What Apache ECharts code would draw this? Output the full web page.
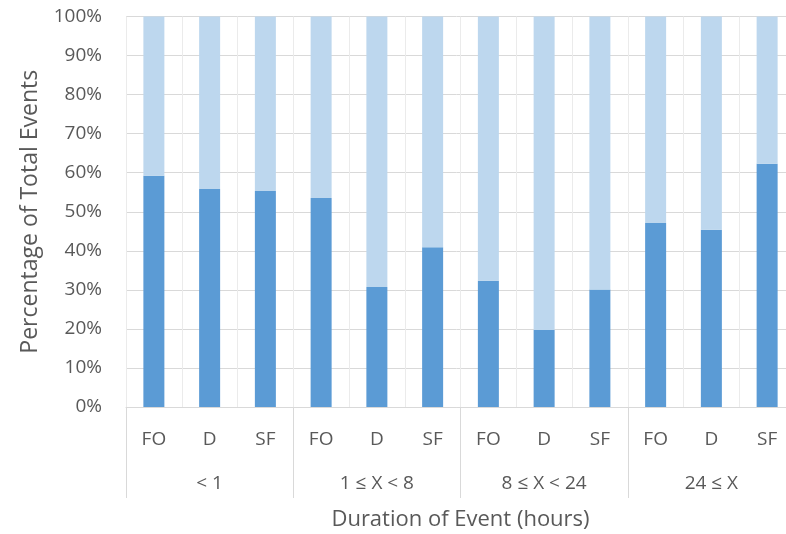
<!DOCTYPE html>
<html>
<head>
<meta charset="utf-8">
<script src="https://cdn.jsdelivr.net/npm/echarts@6/dist/echarts.min.js"></script>
<style>
  html, body { margin: 0; padding: 0; background: #fff; }
  #chart { width: 786px; height: 534px; }
</style>
</head>
<body>
<div id="chart"></div>
<script>
  // categories
  var subLabels = ['FO', 'D', 'SF', 'FO', 'D', 'SF', 'FO', 'D', 'SF', 'FO', 'D', 'SF'];
  var groupLabels = ['< 1', '1 ≤ X < 8', '8 ≤ X < 24', '24 ≤ X'];
  // percent of events (lower, dark part) and remaining part (upper, light)
  var lowerPct = [59.2, 55.8, 55.3, 53.5, 30.7, 40.9, 32.3, 19.7, 30.1, 47.1, 45.4, 62.3];
  var upperPct = [40.8, 44.2, 44.7, 46.5, 69.3, 59.1, 67.7, 80.3, 69.9, 52.9, 54.6, 37.7];
  var yTicks = [0, 10, 20, 30, 40, 50, 60, 70, 80, 90, 100];

  var font = 'Open Sans';
  var textColor = '#595959';

  var chart = echarts.init(document.getElementById('chart'));
  var option = {
    animation: false,
    textStyle: { fontFamily: font },
    // plot runs a bit past the right edge of the picture, like the original
    grid: { left: 126, width: 669, top: 16.5, height: 390.5, containLabel: false, outerBoundsMode: 'none' },
    xAxis: [
      {
        type: 'category',
        data: subLabels,
        position: 'bottom',
        axisLine: { show: true, lineStyle: { color: '#d9d9d9', width: 1 } },
        axisTick: { show: false },
        axisLabel: { interval: 0, margin: 23, fontSize: 19, color: textColor, fontFamily: font },
        splitLine: { show: true, interval: 0, lineStyle: { color: '#ebebeb', width: 1 } }
      },
      {
        type: 'category',
        data: groupLabels,
        position: 'bottom',
        axisLine: { show: false },
        axisTick: { show: true, interval: 0, length: 91, inside: false, lineStyle: { color: '#d9d9d9' } },
        axisLabel: { interval: 0, margin: 67, fontSize: 19, color: textColor, fontFamily: font },
        name: 'Duration of Event (hours)',
        nameLocation: 'middle',
        nameGap: 102,
        nameTextStyle: { fontSize: 22, color: textColor, fontFamily: font },
        splitLine: { show: false }
      }
    ],
    yAxis: {
      type: 'value',
      min: yTicks[0],
      max: yTicks[yTicks.length - 1],
      interval: 10,
      name: 'Percentage of Total Events',
      nameLocation: 'middle',
      nameGap: 84,
      nameTextStyle: { fontSize: 23, color: textColor, fontFamily: font },
      axisLine: { show: false },
      axisTick: { show: false },
      axisLabel: { formatter: '{value}%', margin: 24, fontSize: 19, color: textColor, fontFamily: font },
      splitLine: { show: true, lineStyle: { color: '#d9d9d9', width: 1 } }
    },
    series: [
      {
        name: 'lower',
        type: 'bar',
        stack: 'total',
        xAxisIndex: 0,
        barWidth: 21,
        data: lowerPct,
        itemStyle: { color: '#5b9bd5' }
      },
      {
        name: 'upper',
        type: 'bar',
        stack: 'total',
        xAxisIndex: 0,
        barWidth: 21,
        data: upperPct,
        itemStyle: { color: '#bdd7ee' }
      }
    ]
  };
  chart.setOption(option);
</script>
</body>
</html>
